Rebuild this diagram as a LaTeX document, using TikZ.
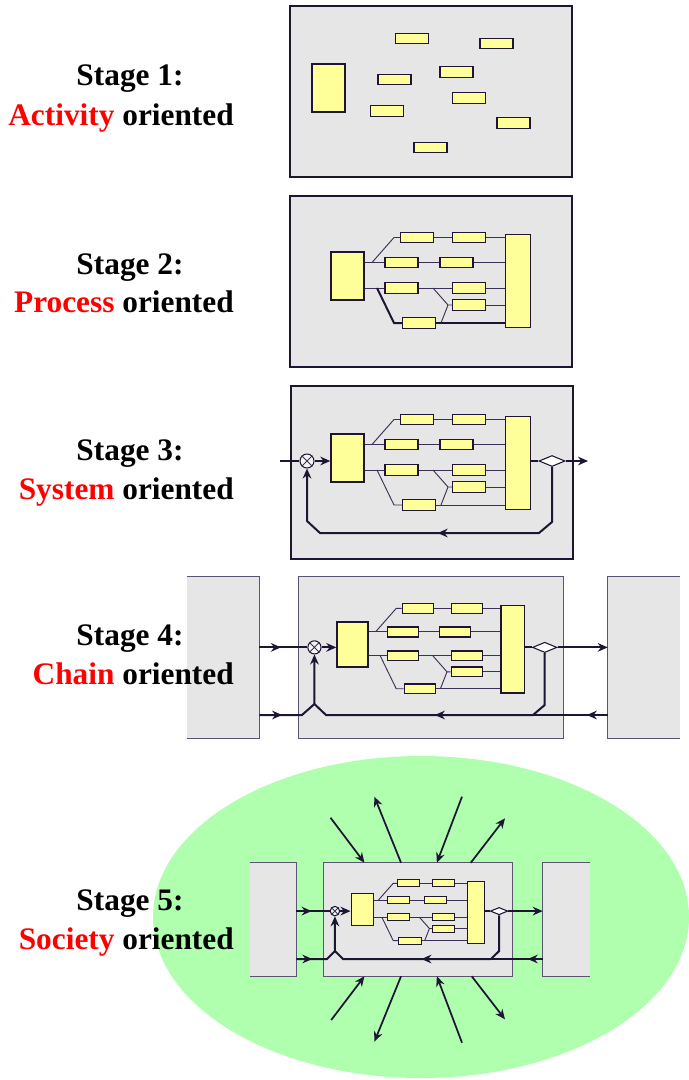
\documentclass[tikz,border=0pt]{standalone}
\usepackage{fontspec}
\setmainfont{Liberation Serif}
\usetikzlibrary{arrows.meta,calc,shapes.geometric,decorations.markings}
\definecolor{edge}{HTML}{1E1433}
\definecolor{linkline}{HTML}{3D3056}
\definecolor{panelgray}{HTML}{E6E6E6}
\definecolor{panelline}{HTML}{5B5470}
\definecolor{cellyellow}{HTML}{FFFF99}
\definecolor{keyred}{HTML}{FF0000}
\definecolor{societygreen}{HTML}{AFFFAF}
\newcommand{\px}{0.75pt}
\newcommand{\procscale}{1}
\tikzset{
    panel/.style 2 args={draw=edge, line width=1.5pt, fill=panelgray, inner sep=0pt,
                minimum width=#1*\px, minimum height=#2*\px},
    sidebox/.style 2 args={fill=panelgray, inner sep=0pt,
                minimum width=#1*\px, minimum height=#2*\px},
    sideedge/.style={draw=panelline, line width=1pt},
    unitbox/.style 2 args={draw=edge, line width=\procscale*1.1pt, fill=cellyellow,
                inner sep=0pt, minimum width=#1*\procscale*\px,
                minimum height=#2*\procscale*\px},
    cell/.style={unitbox={33}{10.5}},
    link/.style={draw=linkline, line width=0.7pt},
    boldlink/.style={draw=edge, line width=1.5pt},
    flow/.style={draw=edge, line width=1.5pt},
    flowarrow/.style={flow, -{Stealth[length=7.5pt, width=6.5pt]}},
    midtip/.style={postaction={decorate}, decoration={markings,
                mark=at position #1 with {\arrow{Stealth[length=7.5pt, width=6.5pt]}}}},
    mixer/.style={circle, draw=edge, line width=0.8pt, fill=panelgray!40,
                inner sep=0pt, minimum size=14*\procscale*\px},
    splitter/.style={diamond, draw=edge, line width=0.8pt, fill=white, inner sep=0pt,
                minimum width=26*\procscale*\px, minimum height=11*\procscale*\px},
    ray/.style={draw=edge, line width=1.3pt, -{Stealth[length=7.5pt, width=6.5pt]}},
    stagehead/.style={font=\fontsize{23.5}{28}\selectfont\bfseries, anchor=base,
                inner sep=0pt},
    stagekind/.style={stagehead, anchor=base east},
}
% the process network, drawn in stage-2 pixels from the top left of its input block
\newcommand{\processcore}[5][link]{%
  \begin{scope}[shift={(#3,#4)}, scale=#5]
    \def\procscale{#5}
    \node[unitbox={33}{48}] (#2L) at (16.5,24) {};
    \node[unitbox={25}{93}] (#2R) at (187,29) {};
    \node[cell] (#2a1) at (86,-14.5) {};
    \node[cell] (#2a2) at (138,-14.5) {};
    \node[cell] (#2b1) at (70.5,10.5) {};
    \node[cell] (#2b2) at (125.5,10.5) {};
    \node[cell] (#2c1) at (70.5,36) {};
    \node[cell] (#2c2) at (138,36) {};
    \node[cell] (#2d) at (138,53) {};
    \node[cell] (#2e) at (88,71) {};
    \coordinate (#2j1) at (41,10.5);
    \coordinate (#2j2) at (63,-14.5);
    \coordinate (#2j3) at (46,36);
    \coordinate (#2j4) at (63,71);
    \coordinate (#2j5) at (102,36);
    \coordinate (#2j6) at (117,53);
    \coordinate (#2j7) at (110,71);
    \draw[link] (#2j1) -- (#2j2) -- (#2a1.west);
    \draw[link] (#2a1.east) -- (#2a2.west);
    \draw[link] (#2a2.east) -- (#2R.west |- #2a2);
    \draw[link] (#2L.east |- #2b1) -- (#2b1.west);
    \draw[link] (#2b1.east) -- (#2b2.west);
    \draw[link] (#2b2.east) -- (#2R.west |- #2b2);
    \draw[link] (#2L.east |- #2c1) -- (#2c1.west);
    \draw[link] (#2c1.east) -- (#2c2.west);
    \draw[link] (#2c2.east) -- (#2R.west |- #2c2);
    \draw[link] (#2j5) -- (#2j6) -- (#2d.west);
    \draw[link] (#2j7) -- (#2j6);
    \draw[link] (#2d.east) -- (#2R.west |- #2d);
    \draw[#1] (#2j3) -- (#2j4) -- (#2e.west);
    \draw[#1] (#2e.east) -- (#2R.west |- #2e);
  \end{scope}}
% mixing point and splitting point of the loop
\newcommand{\processjunction}[4]{%
  \begin{scope}[shift={(#2,#3)}, scale=#4]
    \def\procscale{#4}
    \node[mixer] (#1X) at (-24,27) {};
    \node[splitter] (#1D) at (221,27) {};
    \draw[link] (#1X.north west) -- (#1X.south east)
                (#1X.north east) -- (#1X.south west);
    \draw[flow] (#1R.east |- #1D) -- (#1D.west);
  \end{scope}}

\begin{document}
\begin{tikzpicture}[x=0.75pt, y=-0.75pt]
    \path[use as bounding box] (0,0) rectangle (688,1080);

    % Stage 1
    \node[stagehead] (s1head) at (130,86) {Stage 1:};
    \node[stagekind] (s1kind) at (234,126) {\textcolor{keyred}{Activity} oriented};
    \node[panel={282}{171}] (s1box) at (431,91.5) {};
    \node[unitbox={33}{48}] (s1L) at (328.5,88) {};
    \node[cell] (s1a) at (412,38.5) {};
    \node[cell] (s1b) at (496.5,43.5) {};
    \node[cell] (s1c) at (394.5,79.5) {};
    \node[cell] (s1d) at (456.5,72) {};
    \node[cell] (s1e) at (469,98) {};
    \node[cell] (s1f) at (387,111) {};
    \node[cell] (s1g) at (513.5,123) {};
    \node[cell] (s1h) at (430.5,147.5) {};

    % Stage 2
    \node[stagehead] (s2head) at (130,275) {Stage 2:};
    \node[stagekind] (s2kind) at (234,312) {\textcolor{keyred}{Process} oriented};
    \node[panel={282}{171}] (s2box) at (431,281.5) {};
    \processcore[boldlink]{s2}{331}{252}{1}

    % Stage 3
    \node[stagehead] (s3head) at (130,460) {Stage 3:};
    \node[stagekind] (s3kind) at (234,499) {\textcolor{keyred}{System} oriented};
    \node[panel={282}{173}] (s3box) at (432,472.5) {};
    \processcore{s3}{331}{434}{1}
    \processjunction{s3}{331}{434}{1}
    \coordinate (s3in) at (280,461);
    \coordinate (s3out) at (588,461);
    \coordinate (s3f1) at (552,522);
    \coordinate (s3f2) at (539,533);
    \coordinate (s3f3) at (320,533);
    \coordinate (s3f4) at (307,521);
    \draw[flow] (s3in) -- (s3X.west);
    \draw[flowarrow] (s3X.east) -- (s3L.west |- s3X);
    \draw[flowarrow] (s3D.east) -- (s3out);
    \draw[flowarrow, midtip=0.48] (s3D.south) -- (s3f1) -- (s3f2) -- (s3f3)
        -- (s3f4) -- (s3X.south);

    % Stage 4
    \node[stagehead] (s4head) at (130,645) {Stage 4:};
    \node[sidebox={72}{161}] (s4lbox) at (223,657.5) {};
    \node[sidebox={72}{161}] (s4rbox) at (644,657.5) {};
    \node[sidebox={264}{161}] (s4box) at (431,657.5) {};
    \draw[sideedge] (s4lbox.north west) -- (s4lbox.north east) -- (s4lbox.south east)
        -- (s4lbox.south west);
    \draw[sideedge] (s4rbox.north east) -- (s4rbox.north west) -- (s4rbox.south west)
        -- (s4rbox.south east);
    \draw[sideedge] (s4box.north west) rectangle (s4box.south east);
    \node[stagekind] (s4kind) at (234,684) {\textcolor{keyred}{Chain} oriented};
    \processcore{s4}{337}{622}{0.94}
    \processjunction{s4}{337}{622}{0.94}
    \coordinate (s4k1) at (302,715);
    \coordinate (s4k2) at (314.4,704);
    \coordinate (s4k3) at (326,715);
    \coordinate (s4f1) at (544.7,705);
    \coordinate (s4f2) at (533,715);
    \draw[flow, midtip=0.45] (s4lbox.east |- s4X) -- (s4X.west);
    \draw[flowarrow] (s4X.east) -- (s4L.west |- s4X);
    \draw[flowarrow] (s4D.east) -- (s4rbox.west |- s4D);
    \draw[flowarrow, midtip=0.21] (s4lbox.east |- s4k1) -- (s4k1) -- (s4k2) -- (s4X.south);
    \draw[flow, midtip=0.57] (s4D.south) -- (s4f1) -- (s4f2) -- (s4k3) -- (s4k2);
    \draw[flow, midtip=0.28] (s4rbox.west |- s4f2) -- (s4f2);

    % Stage 5
    \fill[societygreen] (421,917) ellipse [x radius=268, y radius=161];
    \node[stagehead] (s5head) at (130,910) {Stage 5:};
    \node[stagekind] (s5kind) at (234,949) {\textcolor{keyred}{Society} oriented};
    \node[sidebox={46}{113}] (s5lbox) at (273,919.5) {};
    \node[sidebox={47}{113}] (s5rbox) at (566.5,919.5) {};
    \node[sidebox={188}{113}] (s5box) at (418,919.5) {};
    \draw[sideedge] (s5lbox.north west) -- (s5lbox.north east) -- (s5lbox.south east)
        -- (s5lbox.south west);
    \draw[sideedge] (s5rbox.north east) -- (s5rbox.north west) -- (s5rbox.south west)
        -- (s5rbox.south east);
    \draw[sideedge] (s5box.north west) rectangle (s5box.south east);
    \processcore{s5}{351}{893}{0.67}
    \processjunction{s5}{351}{893}{0.67}
    \coordinate (s5k1) at (327,959);
    \coordinate (s5k2) at (334.9,951);
    \coordinate (s5k3) at (343,959);
    \coordinate (s5f1) at (499.1,951);
    \coordinate (s5f2) at (491,959);
    \draw[flow, midtip=0.46] (s5lbox.east |- s5X) -- (s5X.west);
    \draw[flowarrow] (s5X.east) -- (s5L.west |- s5X);
    \draw[flowarrow] (s5D.east) -- (s5rbox.west |- s5D);
    \draw[flowarrow, midtip=0.21] (s5lbox.east |- s5k1) -- (s5k1) -- (s5k2) -- (s5X.south);
    \draw[flow, midtip=0.565] (s5D.south) -- (s5f1) -- (s5f2) -- (s5k3) -- (s5k2);
    \draw[flow, midtip=0.29] (s5rbox.west |- s5f2) -- (s5f2);
    % exchanges with society
    \coordinate (s5r1) at (330.5,817.7);
    \coordinate (s5r2) at (374.4,796.7);
    \coordinate (s5r3) at (462,796.7);
    \coordinate (s5r4) at (505,818.3);
    \coordinate (s5r5) at (331.2,1020);
    \coordinate (s5r6) at (374.4,1041.7);
    \coordinate (s5r7) at (462,1042.7);
    \coordinate (s5r8) at (505,1019.3);
    \draw[ray] (s5r1) -- ($(s5box.north west)!0.216!(s5box.north east)$);
    \draw[ray] ($(s5box.north west)!0.41!(s5box.north east)$) -- (s5r2);
    \draw[ray] (s5r3) -- ($(s5box.north west)!0.6!(s5box.north east)$);
    \draw[ray] ($(s5box.north west)!0.78!(s5box.north east)$) -- (s5r4);
    \draw[ray] (s5r5) -- ($(s5box.south west)!0.216!(s5box.south east)$);
    \draw[ray] ($(s5box.south west)!0.41!(s5box.south east)$) -- (s5r6);
    \draw[ray] (s5r7) -- ($(s5box.south west)!0.6!(s5box.south east)$);
    \draw[ray] ($(s5box.south west)!0.785!(s5box.south east)$) -- (s5r8);

\end{tikzpicture}
\end{document}
